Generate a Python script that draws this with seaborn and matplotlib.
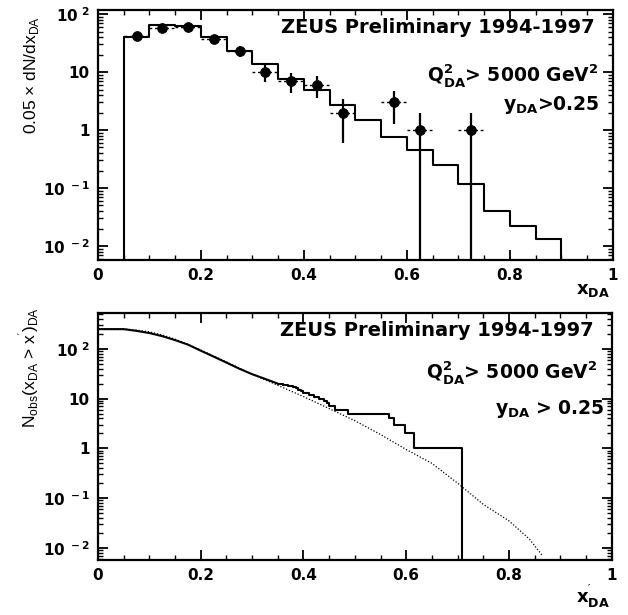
import numpy as np
import pandas as pd
import seaborn as sns
import matplotlib
matplotlib.use("Agg")
import matplotlib.pyplot as plt
from matplotlib.ticker import MultipleLocator, FixedLocator, LogLocator, NullFormatter

# ---------------- data ----------------
# top panel: data points (counts per 0.05 bin)
pt_x = [0.075, 0.125, 0.175, 0.225, 0.275, 0.325, 0.375, 0.425, 0.475, 0.575, 0.625, 0.725]
pt_n = [42, 57, 60, 37, 23, 10, 7, 6, 2, 3, 1, 1]
pt_err = [6.5, 7.5, 7.7, 6.1, 4.8, 3.2, 2.6, 2.4, 1.41, 1.73, 1.0, 1.0]
# top panel: MC histogram (bin edges and contents)
mc_edges = [0.05, 0.10, 0.15, 0.20, 0.25, 0.30, 0.35, 0.40, 0.45, 0.50, 0.55,
            0.60, 0.65, 0.70, 0.75, 0.80, 0.85, 0.90]
mc_vals = [40, 65, 62, 40, 23, 13.7, 7.5, 5.0, 2.7, 1.5, 0.76, 0.46, 0.25,
           0.117, 0.04, 0.022, 0.013]

# bottom panel: observed cumulative N(x_DA > x'), dense region (looks continuous)
cum_hi_x = [0.0, 0.05, 0.075, 0.10, 0.125, 0.15, 0.175, 0.20, 0.225, 0.25, 0.275,
            0.30, 0.325, 0.35]
cum_hi_n = [249, 249, 230, 208, 180, 150, 122, 92, 70, 53, 40,
            31, 25, 20]
# bottom panel: observed cumulative, sparse region (visible steps)
cum_lo_x = [0.35, 0.36, 0.37, 0.38, 0.385, 0.39, 0.395, 0.40, 0.41, 0.42, 0.43,
            0.44, 0.445, 0.45, 0.462, 0.486, 0.567, 0.577, 0.597, 0.615, 0.709]
cum_lo_n = [20, 19, 18, 17, 16, 15, 14, 13, 12, 11, 10,
            9, 8, 7, 6, 5, 4, 3, 2, 1, 0]
# bottom panel: expected (MC) cumulative
exp_x = [0.0, 0.05, 0.075, 0.10, 0.125, 0.15, 0.175, 0.20, 0.225, 0.25, 0.275,
         0.30, 0.325, 0.35, 0.40, 0.45, 0.50, 0.55, 0.60, 0.65, 0.70, 0.75,
         0.80, 0.84, 0.865]
exp_n = [252, 252, 238, 220, 190, 157, 123, 95, 72, 55, 41,
         31, 24, 18.5, 11, 6.3, 3.6, 1.9, 0.95, 0.5, 0.2, 0.075,
         0.035, 0.015, 0.007]

ytick_vals = [1e-2, 1e-1, 1, 10, 100]
ytick_labels = ['10$^{\\ -2}$', '10$^{\\ -1}$', '1', '10', '10$^{\\ 2}$']
xtick_vals = [0, 0.2, 0.4, 0.6, 0.8, 1.0]
xtick_labels = ['0', '0.2', '0.4', '0.6', '0.8', '1']

# ---------------- style ----------------
sns.set_theme(style="ticks")
plt.rcParams['font.family'] = ['DejaVu Sans']
for k in ['text.color', 'axes.labelcolor', 'xtick.color', 'ytick.color',
          'axes.edgecolor']:
    plt.rcParams[k] = 'black'
plt.rcParams['mathtext.fontset'] = 'custom'
plt.rcParams['mathtext.rm'] = 'DejaVu Sans:bold'
plt.rcParams['mathtext.bf'] = 'DejaVu Sans:bold'
plt.rcParams['mathtext.it'] = 'DejaVu Sans:bold'
plt.rcParams['mathtext.sf'] = 'Liberation Sans'

BOLD = dict(family='DejaVu Sans', fontweight='bold', color='black')

fig = plt.figure(figsize=(6.28, 6.15), dpi=100)
ax1 = fig.add_axes([0.156, 0.577, 0.820, 0.4065])
ax2 = fig.add_axes([0.156, 0.0894, 0.818, 0.4016])


def style_axis(ax, ylim):
    ax.set_yscale('log')
    ax.set_xlim(0, 1)
    ax.set_ylim(*ylim)
    for s in ax.spines.values():
        s.set_linewidth(1.6)
        s.set_color('black')
    ax.xaxis.set_major_locator(FixedLocator(xtick_vals))
    ax.set_xticklabels(xtick_labels, fontsize=11, **BOLD)
    ax.xaxis.set_minor_locator(MultipleLocator(0.05))
    ax.yaxis.set_major_locator(FixedLocator(ytick_vals))
    ax.set_yticklabels(ytick_labels, fontsize=11, **BOLD)
    ax.yaxis.set_minor_locator(LogLocator(base=10, subs=np.arange(2, 10) * 1.0, numticks=20))
    ax.yaxis.set_minor_formatter(NullFormatter())
    ax.tick_params(which='both', direction='in', top=True, right=True, color='black')
    ax.tick_params(which='major', length=7, width=1.3, pad=6)
    ax.tick_params(which='minor', length=3.5, width=1.0)
    ax.grid(False)


# ---------- top panel ----------
style_axis(ax1, (0.0057, 117))
hist_df = pd.DataFrame({'x': mc_edges[:-1], 'w': mc_vals})
sns.histplot(data=hist_df, x='x', weights='w', bins=mc_edges, element='step',
             fill=False, color='black', linewidth=1.5, ax=ax1)
ax1.plot([mc_edges[0], mc_edges[0]], [1e-4, mc_vals[0]], color='black', lw=1.5)
ax1.plot([mc_edges[-1], mc_edges[-1]], [1e-4, mc_vals[-1]], color='black', lw=1.5)

pt_lo = [max(n - e, 1e-6) for n, e in zip(pt_n, pt_err)]
yerr = [np.array(pt_n) - np.array(pt_lo), np.array(pt_err)]
ax1.errorbar(pt_x, pt_n, yerr=yerr, fmt='none', ecolor='black', elinewidth=1.6)
xe = ax1.errorbar(pt_x, pt_n, xerr=0.025, fmt='none', ecolor='black', elinewidth=1.0)
for lc in xe.lines[2]:
    lc.set_linestyle((0, (2, 2)))
pt_df = pd.DataFrame({'x': pt_x, 'n': pt_n})
sns.scatterplot(data=pt_df, x='x', y='n', marker='o', s=50, color='black',
                edgecolor='black', ax=ax1, zorder=5)
ax1.set_xlabel('')
ax1.set_ylabel('0.05 \u00d7 dN/dx$_{\\mathsf{DA}}$', fontsize=12.5,
               family='Liberation Sans', fontweight='normal')
ax1.yaxis.set_label_coords(-0.11, 0.74)

ax1.text(0.965, 0.93, 'ZEUS Preliminary 1994-1997', transform=ax1.transAxes,
         ha='right', va='center', fontsize=14, **BOLD)
ax1.text(0.972, 0.74, 'Q$^{2}_{DA}$> 5000 GeV$^{2}$', transform=ax1.transAxes,
         ha='right', va='center', fontsize=13.5, **BOLD)
ax1.text(0.972, 0.62, 'y$_{DA}$>0.25', transform=ax1.transAxes,
         ha='right', va='center', fontsize=13.5, **BOLD)
fig.text(0.945, 0.528, 'x$_{DA}$', ha='center', va='center', fontsize=13,
         **BOLD)

# ---------- bottom panel ----------
style_axis(ax2, (0.0057, 525))
exp_df = pd.DataFrame({'x': exp_x, 'n': exp_n})
hi_df = pd.DataFrame({'x': cum_hi_x, 'n': cum_hi_n})
sns.lineplot(data=exp_df, x='x', y='n', color='black', linewidth=0.9,
             linestyle=(0, (1, 1.5)), ax=ax2)
sns.lineplot(data=hi_df, x='x', y='n', color='black', linewidth=1.5, ax=ax2)
ax2.plot(cum_lo_x, cum_lo_n, drawstyle='steps-post', color='black',
         linewidth=1.5)
ax2.set_xlabel('')
ax2.set_ylabel("N$_{\\mathsf{obs}}$(x$_{\\mathsf{DA}}$ > x$^{\\mathsf{'}}$)$_{\\mathsf{DA}}$",
               fontsize=12.5, family='Liberation Sans', fontweight='normal')
ax2.yaxis.set_label_coords(-0.11, 0.78)

ax2.text(0.965, 0.93, 'ZEUS Preliminary 1994-1997', transform=ax2.transAxes,
         ha='right', va='center', fontsize=14, **BOLD)
ax2.text(0.972, 0.76, 'Q$^{2}_{DA}$> 5000 GeV$^{2}$', transform=ax2.transAxes,
         ha='right', va='center', fontsize=13.5, **BOLD)
ax2.text(0.985, 0.61, 'y$_{DA}$ > 0.25', transform=ax2.transAxes,
         ha='right', va='center', fontsize=13.5, **BOLD)
fig.text(0.945, 0.030, "x$^{'}_{DA}$", ha='center', va='center', fontsize=13,
         **BOLD)

fig.savefig('out.png', dpi=100)
